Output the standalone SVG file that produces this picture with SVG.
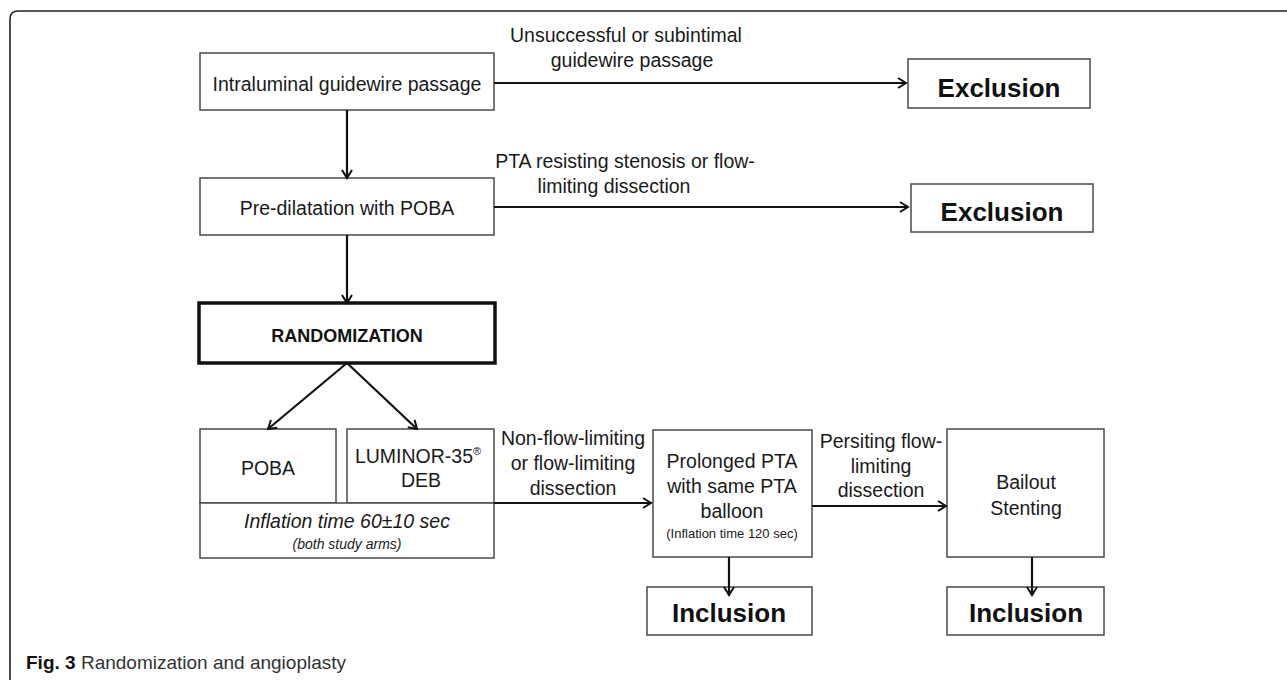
<svg xmlns="http://www.w3.org/2000/svg" width="1287" height="680" viewBox="0 0 1287 680">
<style>
.box{fill:#fff;stroke:#4a4a4a;stroke-width:1.5}
.thick{fill:#fff;stroke:#111;stroke-width:3.5}
.t{font-family:"Liberation Sans",Arial,sans-serif;font-size:19.5px;fill:#1a1a1a;text-anchor:middle}
.b{font-family:"Liberation Sans",Arial,sans-serif;font-weight:bold;font-size:26px;fill:#111;text-anchor:middle}
.i{font-style:italic}
.s13{font-size:13px}
.s14{font-size:14px}
.s18{font-size:18px}
.c{fill:none;stroke:#111;stroke-width:2.2}
.frame{fill:none;stroke:#222;stroke-width:1.6}
</style>
<defs>
<marker id="ah" markerUnits="userSpaceOnUse" viewBox="0 0 12 12" markerWidth="12" markerHeight="12" refX="10" refY="6" orient="auto">
<path d="M2,1 L10,6 L2,11" fill="none" stroke="#111" stroke-width="2"/>
</marker>
</defs>
<rect width="1287" height="680" fill="#fff"/>
<path class="frame" d="M10,680 L10,19 Q10,11 18,11 L1287,11"/>

<g id="intraluminal">
<rect class="box" x="200" y="53" width="294" height="57"/>
<text class="t" x="347" y="91">Intraluminal guidewire passage</text>
</g>
<g id="exclusion1">
<rect class="box" x="908" y="59" width="182" height="49"/>
<text class="b" x="999" y="97">Exclusion</text>
</g>
<g id="predilatation">
<rect class="box" x="200" y="178" width="294" height="57"/>
<text class="t" x="347" y="215">Pre-dilatation with POBA</text>
</g>
<g id="exclusion2">
<rect class="box" x="911" y="184" width="182" height="48"/>
<text class="b" x="1002" y="221">Exclusion</text>
</g>
<g id="randomization">
<rect class="thick" x="199" y="303" width="296" height="60"/>
<text class="b s18" x="347" y="342">RANDOMIZATION</text>
</g>
<g id="poba">
<rect class="box" x="200" y="429" width="136" height="74"/>
<text class="t" x="268" y="475">POBA</text>
</g>
<g id="luminor">
<rect class="box" x="347" y="429" width="147" height="74"/>
<text class="t" x="418" y="463">LUMINOR-35<tspan style="font-size:11px" dy="-8">®</tspan></text>
<text class="t" x="421" y="487">DEB</text>
</g>
<g id="inflation">
<rect class="box" x="200" y="503" width="294" height="55"/>
<text class="t i" x="347" y="528">Inflation time 60±10 sec</text>
<text class="t i s14" x="347" y="549">(both study arms)</text>
</g>
<g id="prolonged">
<rect class="box" x="653" y="430" width="159" height="127"/>
<text class="t" x="732" y="468">Prolonged PTA</text>
<text class="t" x="732" y="493">with same PTA</text>
<text class="t" x="732" y="518">balloon</text>
<text class="t s13" x="732" y="538">(Inflation time 120 sec)</text>
</g>
<g id="bailout">
<rect class="box" x="947" y="429" width="157" height="128"/>
<text class="t" x="1026" y="489">Bailout</text>
<text class="t" x="1026" y="515">Stenting</text>
</g>
<g id="inclusion1">
<rect class="box" x="647" y="587" width="165" height="48"/>
<text class="b" x="729" y="622">Inclusion</text>
</g>
<g id="inclusion2">
<rect class="box" x="947" y="587" width="157" height="48"/>
<text class="b" x="1026" y="622">Inclusion</text>
</g>

<g id="connectors">
<line class="c" x1="494" y1="83" x2="906" y2="83" marker-end="url(#ah)"/>
<line class="c" x1="347" y1="110" x2="347" y2="178" marker-end="url(#ah)"/>
<line class="c" x1="494" y1="207" x2="908" y2="207" marker-end="url(#ah)"/>
<line class="c" x1="347" y1="235" x2="347" y2="303" marker-end="url(#ah)"/>
<line class="c" x1="347" y1="363" x2="268" y2="429" marker-end="url(#ah)"/>
<line class="c" x1="347" y1="363" x2="417" y2="429" marker-end="url(#ah)"/>
<line class="c" x1="494" y1="503" x2="651" y2="503" marker-end="url(#ah)"/>
<line class="c" x1="812" y1="506" x2="946" y2="506" marker-end="url(#ah)"/>
<line class="c" x1="729" y1="557" x2="729" y2="595" marker-end="url(#ah)"/>
<line class="c" x1="1032" y1="557" x2="1032" y2="595" marker-end="url(#ah)"/>
<text class="t" x="626" y="42">Unsuccessful or subintimal</text>
<text class="t" x="632" y="67">guidewire passage</text>
<text class="t" x="625" y="168">PTA resisting stenosis or flow-</text>
<text class="t" x="614" y="193">limiting dissection</text>
<text class="t" x="573" y="445">Non-flow-limiting</text>
<text class="t" x="573" y="470">or flow-limiting</text>
<text class="t" x="573" y="495">dissection</text>
<text class="t" x="881" y="448">Persiting flow-</text>
<text class="t" x="881" y="473">limiting</text>
<text class="t" x="881" y="497">dissection</text>
</g>

<g id="caption">
<text x="26" y="669" font-family="'Liberation Sans',Arial,sans-serif" font-size="19" fill="#333"><tspan font-weight="bold" fill="#111">Fig. 3</tspan> Randomization and angioplasty</text>
</g>
</svg>
